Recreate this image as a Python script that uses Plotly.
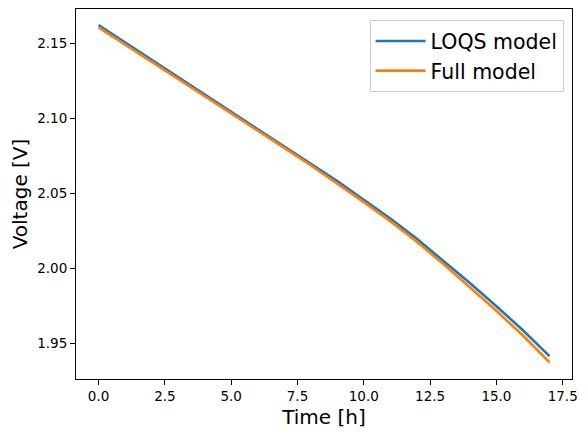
import plotly.graph_objects as go

# time in hours, voltage in volts
time_h = [0, 1, 2, 3, 4, 5, 6, 7, 8, 9, 10, 11, 12, 13, 14, 15, 16, 17]
loqs_v = [2.1620, 2.1505, 2.1390, 2.1275, 2.1160, 2.1045, 2.0930, 2.0815, 2.0700,
          2.0580, 2.0455, 2.0330, 2.0195, 2.0050, 1.9900, 1.9745, 1.9585, 1.9413]
full_v = [2.1606, 2.1492, 2.1377, 2.1262, 2.1147, 2.1032, 2.0917, 2.0802, 2.0686,
          2.0566, 2.0440, 2.0313, 2.0175, 2.0027, 1.9874, 1.9715, 1.9550, 1.9372]

x_ticks = [0, 2.5, 5, 7.5, 10, 12.5, 15, 17.5]
y_ticks = [1.95, 2.00, 2.05, 2.10, 2.15]

fig = go.Figure()
fig.add_trace(go.Scatter(x=time_h, y=loqs_v, name="LOQS model", mode="lines",
                         line=dict(color="#1f77b4", width=2.6)))
fig.add_trace(go.Scatter(x=time_h, y=full_v, name="Full model", mode="lines",
                         line=dict(color="#ff7f0e", width=2.6)))

axis_style = dict(showline=True, linecolor="black", linewidth=1, mirror=True,
                  ticks="outside", ticklen=5, tickcolor="black", showgrid=False,
                  zeroline=False, automargin=False,
                  tickfont=dict(size=13.5, color="black"))

fig.update_xaxes(range=[-0.85, 17.85], tickvals=x_ticks,
                 ticktext=[f"{v:.1f}" for v in x_ticks],
                 title=dict(text="Time [h]", font=dict(size=20, color="black"), standoff=6),
                 **axis_style)
fig.update_yaxes(range=[1.926, 2.1728], tickvals=y_ticks,
                 ticktext=[f"{v:.2f}" for v in y_ticks],
                 title=dict(text="Voltage [V]", font=dict(size=20, color="black"), standoff=11),
                 **axis_style)

# page body adds an 8px offset, so margins are shifted to compensate
fig.update_layout(
    width=588, height=438,
    margin=dict(l=68, r=24, t=1, b=67, autoexpand=False),
    plot_bgcolor="white", paper_bgcolor="white",
    font=dict(family="DejaVu Sans", color="black"),
    legend=dict(x=0.983, y=0.97, xanchor="right", yanchor="top",
                bordercolor="#cccccc", borderwidth=1, bgcolor="rgba(255,255,255,0.8)",
                font=dict(size=20.5), itemwidth=50, tracegroupgap=0),
    showlegend=True,
)

fig.write_html("out.html")
